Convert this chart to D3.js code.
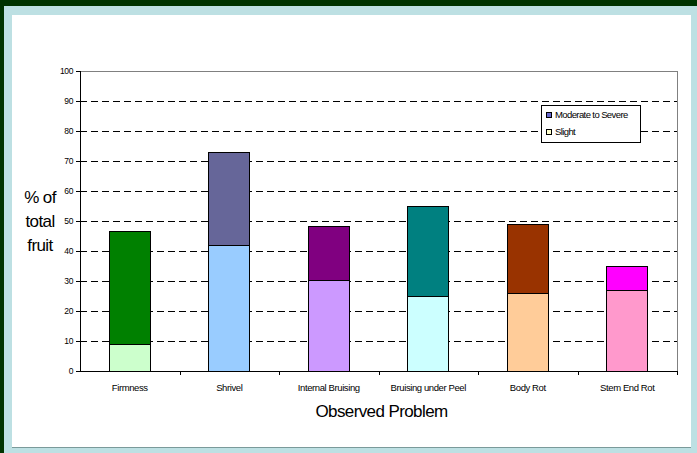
<!DOCTYPE html>
<html lang="en">
<head>
    <meta charset="UTF-8">
    <title>Observed Problem</title>
    <script src="https://d3js.org/d3.v7.min.js"></script>
    <style>
        body {
            margin: 0;
            padding: 0;
            background: #003300;
            font-family: "Liberation Sans", Arial, sans-serif;
        }
        svg { display: block; }
        line, rect, path { shape-rendering: crispEdges; }
    </style>
</head>
<body>
    <svg width="697" height="453"></svg>

    <script>
        // data
        const problems = ["Firmness", "Shrivel", "Internal Bruising", "Bruising under Peel", "Body Rot", "Stem End Rot"];
        const tickLabels = ["Firmness", "Shrivel", "Internal Bruising", "Bruising under Peel", "Body Rot", "Stem End Rot"];
        const slight = [9, 42, 30.3, 25, 25.8, 26.8];
        const moderate = [37.4, 31, 17.9, 30, 23, 8];
        const slightColors = ["#CCFFCC", "#99CCFF", "#CC99FF", "#CCFFFF", "#FFCC99", "#FF99CC"];
        const moderateColors = ["#008000", "#666699", "#800080", "#008080", "#993300", "#FF00FF"];
        const yTicks = [0, 10, 20, 30, 40, 50, 60, 70, 80, 90, 100];

        const svg = d3.select("svg");

        // frame
        svg.append("rect").attr("x", 4).attr("y", 6).attr("width", 693).attr("height", 447).attr("fill", "#BDE0E3");
        svg.append("rect").attr("x", 12).attr("y", 15).attr("width", 679).attr("height", 432).attr("fill", "#fff");
        svg.append("line").attr("x1", 12).attr("x2", 691).attr("y1", 447.5).attr("y2", 447.5).attr("stroke", "#7a9a9a");

        const plotL = 80, plotR = 677, plotT = 71, plotB = 371;

        const x = d3.scaleBand().domain(problems).range([plotL, plotR]).paddingInner(0).paddingOuter(0);
        const y = d3.scaleLinear().domain([0, 100]).range([plotB, plotT]);

        // gridlines
        svg.append("g").selectAll("line")
            .data(yTicks.filter(d => d > 0 && d < 100))
            .enter().append("line")
            .attr("x1", plotL).attr("x2", plotR)
            .attr("y1", d => y(d) + 0.5).attr("y2", d => y(d) + 0.5)
            .attr("stroke", "#000")
            .attr("stroke-dasharray", "7,4");

        // plot border top/right
        svg.append("path")
            .attr("d", `M${plotL},${plotT + 0.5}H${plotR + 0.5}V${plotB}`)
            .attr("fill", "none").attr("stroke", "#808080");

        const bw = x.bandwidth() * 0.41;
        const cx = d => x(d) + x.bandwidth() / 2;

        // slight
        svg.append("g").selectAll("rect")
            .data(problems)
            .enter().append("rect")
            .attr("x", d => cx(d) - bw / 2)
            .attr("y", (d, i) => y(slight[i]))
            .attr("width", bw)
            .attr("height", (d, i) => y(0) - y(slight[i]))
            .attr("fill", (d, i) => slightColors[i])
            .attr("stroke", "#000");

        // moderate to severe
        svg.append("g").selectAll("rect")
            .data(problems)
            .enter().append("rect")
            .attr("x", d => cx(d) - bw / 2)
            .attr("y", (d, i) => y(slight[i] + moderate[i]))
            .attr("width", bw)
            .attr("height", (d, i) => y(slight[i]) - y(slight[i] + moderate[i]))
            .attr("fill", (d, i) => moderateColors[i])
            .attr("stroke", "#000");

        // y axis
        const yAxis = svg.append("g")
            .attr("transform", `translate(${plotL},0)`)
            .call(d3.axisLeft(y).tickValues(yTicks).tickSize(4).tickPadding(3));
        yAxis.select(".domain").attr("stroke", "#000");
        yAxis.selectAll("text").attr("font-size", 8.5).attr("letter-spacing", "-0.4px")
            .attr("font-family", "Liberation Sans, Arial, sans-serif");

        // x axis
        const xAxis = svg.append("g")
            .attr("transform", `translate(0,${plotB})`)
            .call(d3.axisBottom(x).tickSize(0).tickFormat((d, i) => tickLabels[i]).tickPadding(13));
        xAxis.select(".domain").attr("d", `M${plotL},0.5H${plotR}`).attr("stroke", "#000");
        xAxis.selectAll("text").attr("font-size", 9.5).attr("letter-spacing", "-0.4px")
            .attr("font-family", "Liberation Sans, Arial, sans-serif");
        // ticks at band edges
        svg.append("g").selectAll("line")
            .data(problems.slice(1).concat(["end"]))
            .enter().append("line")
            .attr("x1", d => (d === "end" ? plotR : x(d)) + 0.5)
            .attr("x2", d => (d === "end" ? plotR : x(d)) + 0.5)
            .attr("y1", plotB).attr("y2", plotB + 4)
            .attr("stroke", "#000");

        // axis titles
        svg.append("text")
            .attr("x", (plotL + plotR) / 2 + 3).attr("y", 417)
            .attr("text-anchor", "middle")
            .attr("font-size", 17).attr("letter-spacing", "-0.6px")
            .text("Observed Problem");

        const yTitle = ["% of", "total", "fruit"];
        svg.append("g").selectAll("text")
            .data(yTitle)
            .enter().append("text")
            .attr("x", 40)
            .attr("y", (d, i) => 203 + i * 24)
            .attr("text-anchor", "middle")
            .attr("font-size", 17).attr("letter-spacing", "-0.6px")
            .text(d => d);

        // legend
        const legend = svg.append("g");
        legend.append("rect")
            .attr("x", 541.5).attr("y", 105.5).attr("width", 99).attr("height", 37)
            .attr("fill", "#fff").attr("stroke", "#000");
        const legendItems = [["Moderate to Severe", "#6666CC"], ["Slight", "#FFFFCC"]];
        legendItems.forEach((item, i) => {
            legend.append("rect")
                .attr("x", 546.5).attr("y", 112.5 + i * 17).attr("width", 5).attr("height", 5)
                .attr("fill", item[1]).attr("stroke", "#000");
            legend.append("text")
                .attr("x", 555).attr("y", 118 + i * 17)
                .attr("font-size", 9.5).attr("letter-spacing", "-0.6px")
                .text(item[0]);
        });
    </script>
</body>
</html>
